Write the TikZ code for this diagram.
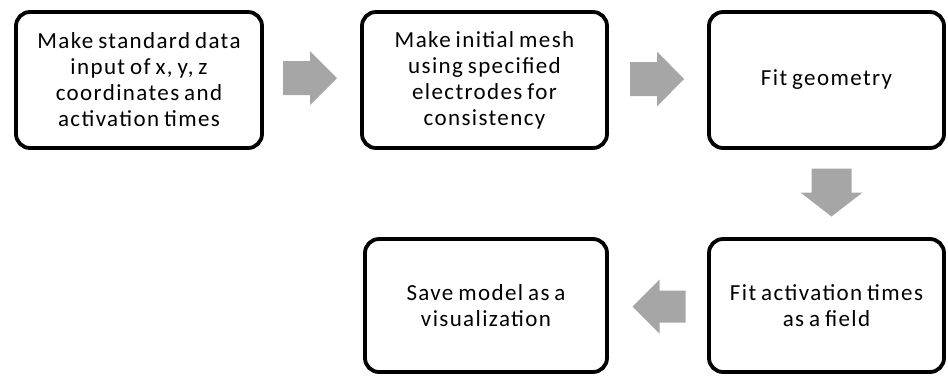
\documentclass[tikz,border=0pt]{standalone}
\usepackage{fontspec}
\setmainfont{Carlito}[LetterSpace=6, WordSpace=0.75]
\usetikzlibrary{calc}
\definecolor{arrowgray}{RGB}{166,166,166}
\tikzset{
  stepbox/.style={draw=black, line width=3.8pt, rounded corners=14pt, fill=white,
    align=center, inner sep=0pt, font=\fontsize{23}{26}\selectfont},
  % block arrow pointing along +x: length / head length / shaft width / head width
  pics/blockarrow/.style args={#1/#2/#3/#4}{code={
    \fill[arrowgray] (-#1/2,-#3/2) -- (#1/2-#2,-#3/2) -- (#1/2-#2,-#4/2) -- (#1/2,0)
      -- (#1/2-#2,#4/2) -- (#1/2-#2,#3/2) -- (-#1/2,#3/2) -- cycle;
  }}
}
\begin{document}
\begin{tikzpicture}[x=1pt,y=-1pt]
\useasboundingbox (0,0) rectangle (948,376);

% process steps
\node[stepbox, minimum width=246pt, minimum height=136pt] (b1) at (139,80)
  {Make standard data\\input of x, y, z\\coordinates and\\activation times};
\node[stepbox, minimum width=245pt, minimum height=136pt] (b2) at (484.5,80)
  {Make initial mesh\\using specified\\electrodes for\\consistency};
\node[stepbox, minimum width=235pt, minimum height=136pt] (b3) at (826.5,80)
  {Fit geometry};
\node[stepbox, minimum width=235pt, minimum height=133pt] (b4) at (826.5,305.5)
  {Fit activation times\\as a field};
\node[stepbox, minimum width=242pt, minimum height=133pt] (b5) at (486,305.5)
  {Save model as a\\visualization};

% block arrows between the steps
\coordinate (a1) at ($(b1.east)!0.5!(b2.west)$);
\coordinate (a2) at ($(b2.east)!0.5!(b3.west)$);
\coordinate (a3) at ($(b3.south)!0.5!(b4.north)+(5,0)$);
\coordinate (a4) at ($(b4.west)!0.5!(b5.east)+(1,1)$);
\pic at ($(a1)+(-2,-2)$) {blockarrow={54/27/34/54}};
\pic at ($(a2)+(-1,-1)$) {blockarrow={54/27/34/55}};
\pic[rotate=-90] at ($(a3)+(0,-1)$) {blockarrow={48/24/40/62}};
\pic[rotate=180] at (a4) {blockarrow={53/27/32/54}};
\end{tikzpicture}
\end{document}
